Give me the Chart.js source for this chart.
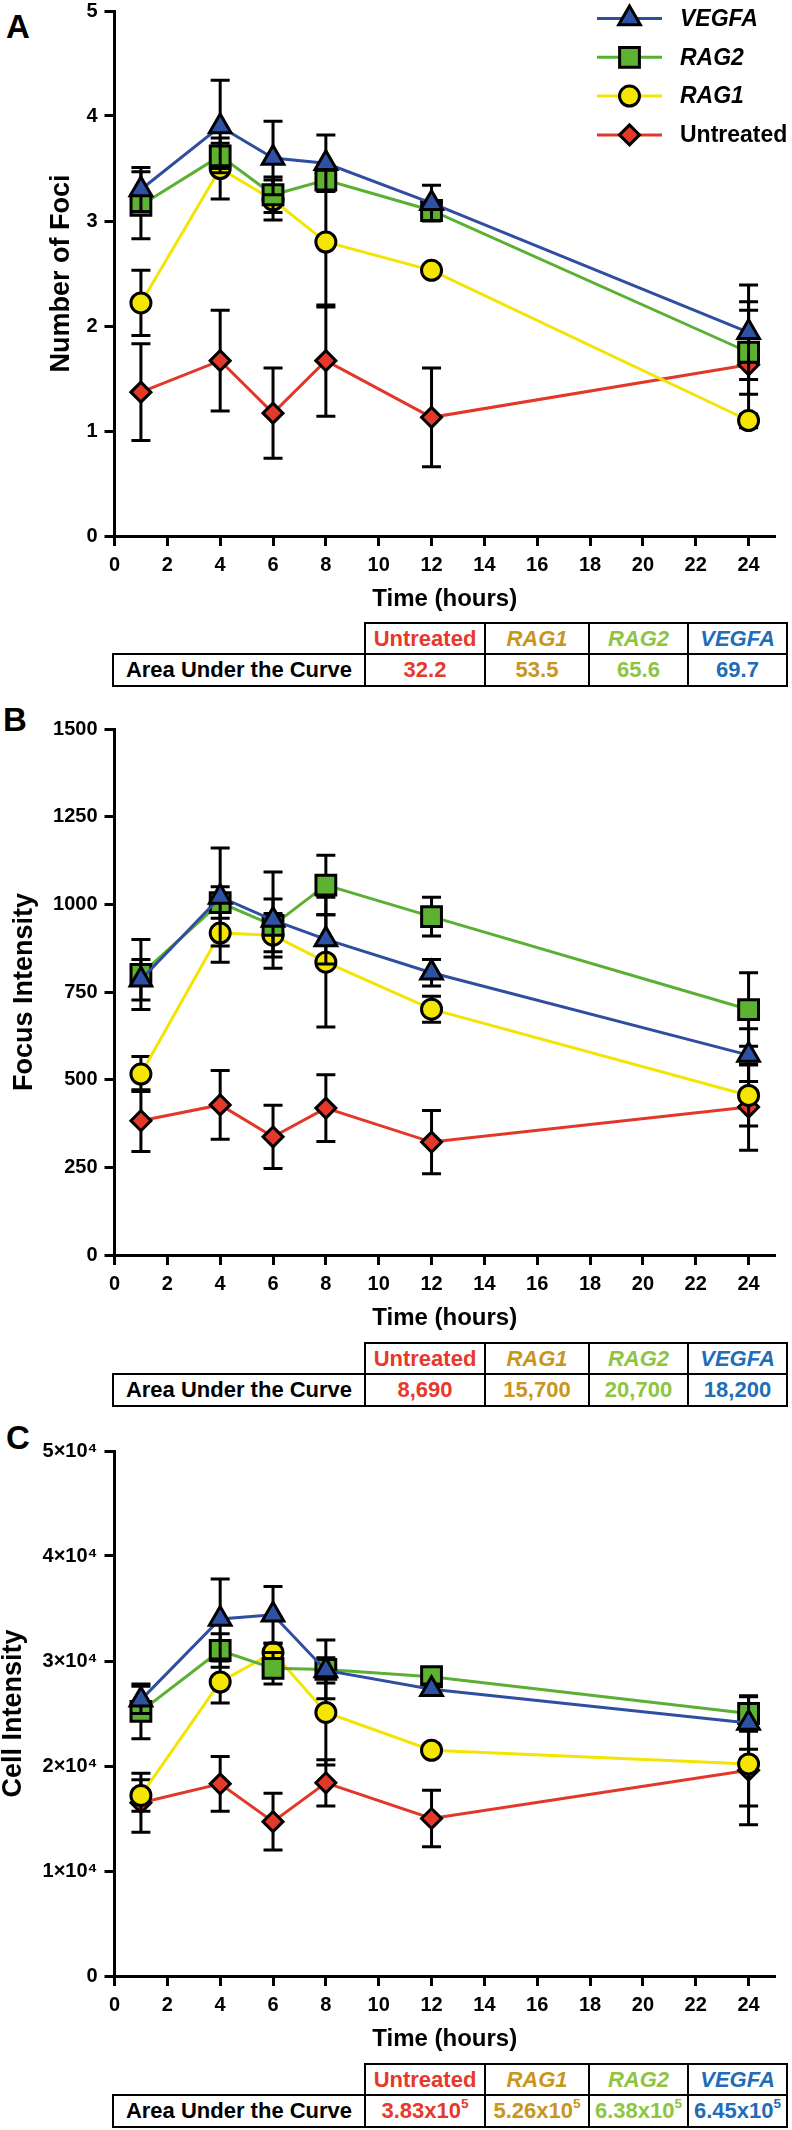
<!DOCTYPE html>
<html>
<head>
<meta charset="utf-8">
<script src="https://cdn.jsdelivr.net/npm/chart.js@4.4.1/dist/chart.umd.min.js"></script>
<style>
html,body{margin:0;padding:0;background:#fff;}
body{width:792px;height:2130px;position:relative;overflow:hidden;font-family:"Liberation Sans",Arial,Helvetica,sans-serif;}
canvas{position:absolute;left:0;}
.letter{position:absolute;font-weight:bold;font-size:33px;line-height:1;color:#000;}
.cell{position:absolute;box-sizing:border-box;border:2px solid #000;display:flex;align-items:center;justify-content:center;font-weight:bold;font-size:22px;background:#fff;z-index:2;white-space:nowrap;}
.cell sup{font-size:0.62em;vertical-align:0;position:relative;top:-0.55em;}
</style>
</head>
<body>
<div class="letter" style="left:6px;top:10px;">A</div>
<div class="letter" style="left:3px;top:703px;">B</div>
<div class="letter" style="left:6px;top:1421px;">C</div>
<canvas id="chartA"></canvas>
<canvas id="chartB"></canvas>
<canvas id="chartC"></canvas>
<div id="tables"></div>
<script>
// ---------------- DATA ----------------
const times = [1, 4, 6, 8, 12, 24];
const xTickValues = [0, 2, 4, 6, 8, 10, 12, 14, 16, 18, 20, 22, 24];
const seriesNames = ['VEGFA', 'RAG2', 'RAG1', 'Untreated'];

// Panel A: Number of Foci (mean, error)
const fociVEGFA = [3.30, 3.90, 3.60, 3.55, 3.17, 1.94];
const fociVEGFAErr = [0.21, 0.44, 0.35, 0.27, 0.17, 0.45];
const fociRAG2 = [3.15, 3.62, 3.25, 3.39, 3.10, 1.75];
const fociRAG2Err = [0.32, 0.12, 0.17, 0.10, 0.08, 0.40];
const fociRAG1 = [2.22, 3.50, 3.20, 2.80, 2.53, 1.10];
const fociRAG1Err = [0.31, 0.29, 0.19, 0.62, 0.05, 0.06];
const fociUntreated = [1.37, 1.67, 1.17, 1.67, 1.13, 1.63];
const fociUntreatedErr = [0.46, 0.48, 0.43, 0.53, 0.47, 0.60];
const fociTicks = [0, 1, 2, 3, 4, 5];
const fociTickLabels = ['0', '1', '2', '3', '4', '5'];

// Panel B: Focus Intensity
const focusVEGFA = [785, 1021, 955, 900, 805, 570];
const focusVEGFAErr = [58, 140, 137, 70, 38, 75];
const focusRAG2 = [800, 1005, 940, 1055, 965, 700];
const focusRAG2Err = [100, 45, 75, 85, 55, 105];
const focusRAG1 = [516, 918, 912, 835, 701, 455];
const focusRAG1Err = [50, 83, 62, 185, 37, 87];
const focusUntreated = [383, 428, 337, 419, 322, 422];
const focusUntreatedErr = [88, 98, 90, 95, 90, 123];
const focusTicks = [0, 250, 500, 750, 1000, 1250, 1500];
const focusTickLabels = ['0', '250', '500', '750', '1000', '1250', '1500'];

// Panel C: Cell Intensity
const cellVEGFA = [26300, 34000, 34400, 29100, 27300, 24100];
const cellVEGFAErr = [1300, 3800, 2700, 1200, 500, 2500];
const cellRAG2 = [25200, 31000, 29300, 29200, 28500, 25000];
const cellRAG2Err = [2600, 1600, 1500, 2800, 500, 1700];
const cellRAG1 = [17200, 28000, 30800, 25100, 21500, 20200];
const cellRAG1Err = [1500, 2000, 900, 5000, 300, 4000];
const cellUntreated = [16500, 18300, 14700, 18400, 15000, 19600];
const cellUntreatedErr = [2800, 2600, 2700, 2200, 2700, 5200];
const cellTicks = [0, 10000, 20000, 30000, 40000, 50000];
const cellTickLabels = ['0', '1×10⁴', '2×10⁴', '3×10⁴', '4×10⁴', '5×10⁴'];

// Area under the curve tables
const aucGroups = ['Untreated', 'RAG1', 'RAG2', 'VEGFA'];
const aucFoci = ['32.2', '53.5', '65.6', '69.7'];
const aucFocus = ['8,690', '15,700', '20,700', '18,200'];
const aucCellMantissa = ['3.83', '5.26', '6.38', '6.45'];
const aucCellExponent = ['5', '5', '5', '5'];

// ---------------- STYLES ----------------
const seriesStyle = [
  {line: '#2F4EA0', fill: '#2D51A4', shape: 'triangle', r: 12.5, italic: true},
  {line: '#5BB033', fill: '#5DB232', shape: 'rect', r: 14, italic: true},
  {line: '#F4E403', fill: '#F5E600', shape: 'circle', r: 10, italic: true},
  {line: '#E2382A', fill: '#E2392B', shape: 'rectRot', r: 10, italic: false}
];
const aucColors = ['#E6392B', '#C8951D', '#8DC540', '#1F6DB6'];
const aucItalic = [false, true, true, true];

Chart.defaults.font.family = '"Liberation Sans", Arial, Helvetica, sans-serif';
Chart.defaults.color = '#000';

const errorBarPlugin = {
  id: 'errbars',
  beforeDatasetDraw(chart, args) {
    const ds = chart.data.datasets[args.index];
    if (!ds.errors) return;
    const xs = chart.scales.x, ys = chart.scales.y, ctx = chart.ctx;
    ctx.save();
    ctx.strokeStyle = '#000';
    ctx.lineWidth = 3;
    ds.data.forEach((p, i) => {
      const e = ds.errors[i];
      const x = xs.getPixelForValue(p.x);
      const y1 = ys.getPixelForValue(p.y + e);
      const y2 = ys.getPixelForValue(p.y - e);
      ctx.beginPath();
      ctx.moveTo(x, y1); ctx.lineTo(x, y2);
      ctx.moveTo(x - 9.5, y1); ctx.lineTo(x + 9.5, y1);
      ctx.moveTo(x - 9.5, y2); ctx.lineTo(x + 9.5, y2);
      ctx.stroke();
    });
    ctx.restore();
  }
};

function drawMarker(ctx, style, r, x, y) {
  if (Chart.helpers && Chart.helpers.drawPoint) {
    Chart.helpers.drawPoint(ctx, {pointStyle: style, radius: r, rotation: 0, borderWidth: 3}, x, y);
    return;
  }
  ctx.beginPath();
  ctx.arc(x, y, r, 0, Math.PI * 2);
  ctx.fill(); ctx.stroke();
}

const legendPlugin = {
  id: 'insideLegend',
  afterDraw(chart) {
    const ctx = chart.ctx, a = chart.chartArea;
    chart.data.datasets.forEach((ds, i) => {
      const y = a.top + 7.5 + i * 38.8;
      ctx.save();
      ctx.strokeStyle = ds.borderColor;
      ctx.lineWidth = 3;
      ctx.beginPath(); ctx.moveTo(597, y); ctx.lineTo(662, y); ctx.stroke();
      ctx.fillStyle = ds.pointBackgroundColor;
      ctx.strokeStyle = '#000';
      ctx.lineWidth = 3;
      drawMarker(ctx, ds.pointStyle, ds.pointRadius, 629.5, y);
      ctx.fillStyle = '#000';
      ctx.font = (ds.italicLabel ? 'italic ' : '') + 'bold 23px "Liberation Sans", Arial, sans-serif';
      ctx.textBaseline = 'middle';
      ctx.textAlign = 'left';
      ctx.fillText(ds.label, 680, y + 1);
      ctx.restore();
    });
  }
};

function makeChart(id, pageTop, areaTop, areaBottom, series, yMax, yTicks, yLabels, yTitle, titleX, withLegend) {
  const H = 650;
  const cv = document.getElementById(id);
  cv.width = 792; cv.height = H;
  cv.style.width = '792px'; cv.style.height = H + 'px';
  cv.style.top = pageTop + 'px';
  const topPad = areaTop - pageTop;
  const areaH = areaBottom - areaTop;
  const xH = 78;
  const bottomPad = H - topPad - areaH - xH;
  const areaLeft = 114.5;
  const leftPad = Math.max(0, titleX - 13.5);
  const yW = areaLeft - leftPad, rightPad = 3.5;
  const axisGrid = {drawOnChartArea: false, drawTicks: true, tickLength: 10, tickWidth: 3, tickColor: '#000'};
  const axisBorder = {display: true, color: '#000', width: 3};
  return new Chart(cv, {
    type: 'line',
    data: {
      datasets: series.map((s, i) => ({
        label: seriesNames[i],
        data: times.map((t, j) => ({x: t, y: s.values[j]})),
        errors: s.errors,
        borderColor: seriesStyle[i].line,
        backgroundColor: seriesStyle[i].fill,
        borderWidth: 3,
        pointStyle: seriesStyle[i].shape,
        pointRadius: seriesStyle[i].r,
        pointBackgroundColor: seriesStyle[i].fill,
        pointBorderColor: '#000',
        pointBorderWidth: 3,
        tension: 0,
        fill: false,
        italicLabel: seriesStyle[i].italic
      }))
    },
    options: {
      responsive: false, animation: false, devicePixelRatio: 1, events: [],
      layout: {padding: {left: leftPad, right: rightPad, top: topPad, bottom: bottomPad}},
      plugins: {legend: {display: false}, tooltip: {enabled: false}},
      scales: {
        x: {
          type: 'linear', position: 'bottom', min: 0, max: 25,
          afterBuildTicks: s => { s.ticks = xTickValues.map(v => ({value: v})); },
          afterFit: s => { s.height = xH; },
          ticks: {font: {size: 20, weight: 'bold'}, color: '#000', padding: 7, maxRotation: 0, autoSkip: false},
          grid: axisGrid, border: axisBorder,
          title: {display: true, text: 'Time (hours)', font: {size: 24, weight: 'bold'}, color: '#000', padding: 0}
        },
        y: {
          type: 'linear', position: 'left', min: 0, max: yMax,
          afterBuildTicks: s => { s.ticks = yTicks.map(v => ({value: v})); },
          afterFit: s => { s.width = yW; },
          ticks: {font: {size: 20, weight: 'bold'}, color: '#000', padding: 7, autoSkip: false,
                  callback: (v) => yLabels[yTicks.indexOf(v)]},
          grid: axisGrid, border: axisBorder,
          title: {display: true, text: yTitle, font: {size: 27, weight: 'bold', lineHeight: 1}, color: '#000', padding: 0}
        }
      }
    },
    plugins: [errorBarPlugin].concat(withLegend ? [legendPlugin] : [])
  });
}

makeChart('chartA', -30, 11, 536, [
  {values: fociVEGFA, errors: fociVEGFAErr},
  {values: fociRAG2, errors: fociRAG2Err},
  {values: fociRAG1, errors: fociRAG1Err},
  {values: fociUntreated, errors: fociUntreatedErr}
], 5, fociTicks, fociTickLabels, 'Number of Foci', 62, true);

makeChart('chartB', 688, 729, 1255, [
  {values: focusVEGFA, errors: focusVEGFAErr},
  {values: focusRAG2, errors: focusRAG2Err},
  {values: focusRAG1, errors: focusRAG1Err},
  {values: focusUntreated, errors: focusUntreatedErr}
], 1500, focusTicks, focusTickLabels, 'Focus Intensity', 25, false);

makeChart('chartC', 1410, 1451, 1976, [
  {values: cellVEGFA, errors: cellVEGFAErr},
  {values: cellRAG2, errors: cellRAG2Err},
  {values: cellRAG1, errors: cellRAG1Err},
  {values: cellUntreated, errors: cellUntreatedErr}
], 50000, cellTicks, cellTickLabels, 'Cell Intensity', 13.5, false);

// ---------------- TABLES ----------------
const colX = [113, 365, 485, 589, 688, 787];
function addCell(parent, x0, x1, y0, y1, html, color, italic) {
  const d = document.createElement('div');
  d.className = 'cell';
  d.style.left = (x0 - 1) + 'px';
  d.style.width = (x1 - x0 + 2) + 'px';
  d.style.top = (y0 - 1) + 'px';
  d.style.height = (y1 - y0 + 2) + 'px';
  d.style.color = color;
  if (italic) d.style.fontStyle = 'italic';
  d.innerHTML = html;
  parent.appendChild(d);
}
function makeTable(top, values) {
  const host = document.getElementById('tables');
  const mid = top + 31, bottom = top + 63;
  aucGroups.forEach((g, i) => {
    addCell(host, colX[i + 1], colX[i + 2], top, mid, g, aucColors[i], aucItalic[i]);
  });
  addCell(host, colX[0], colX[1], mid, bottom, 'Area Under the Curve', '#000', false);
  values.forEach((v, i) => {
    addCell(host, colX[i + 1], colX[i + 2], mid, bottom, v, aucColors[i], false);
  });
}
makeTable(623, aucFoci);
makeTable(1343, aucFocus);
makeTable(2064, aucCellMantissa.map((m, i) => m + 'x10<sup>' + aucCellExponent[i] + '</sup>'));
</script>
</body>
</html>
